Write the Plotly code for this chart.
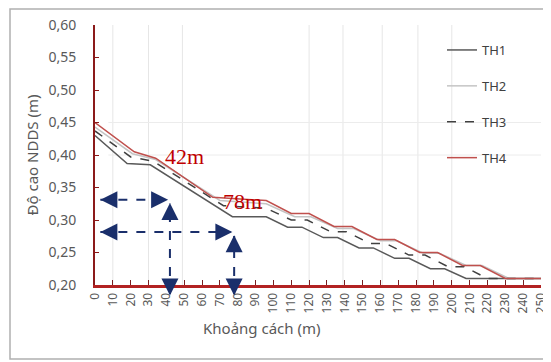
import plotly.graph_objects as go

# ---------------- data ----------------
series_names = ["TH1", "TH2", "TH3", "TH4"]

x_th1 = [0, 18, 31, 77, 96, 108, 116, 128, 136, 148, 156, 168, 176, 188, 196, 208, 250]
y_th1 = [0.430, 0.387, 0.385, 0.305, 0.305, 0.289, 0.289, 0.273, 0.273, 0.257, 0.257, 0.241, 0.241, 0.225, 0.225, 0.210, 0.210]

x_th2 = [0, 21, 34, 70, 96, 112, 121, 136, 145, 160, 169, 184, 193, 208, 217, 232, 250]
y_th2 = [0.443, 0.402, 0.393, 0.330, 0.325, 0.305, 0.305, 0.287, 0.287, 0.268, 0.268, 0.249, 0.249, 0.230, 0.230, 0.210, 0.210]

x_th3 = [0, 20, 33, 72, 96, 110, 119, 132, 141, 154, 163, 176, 185, 198, 207, 220, 250]
y_th3 = [0.437, 0.397, 0.390, 0.322, 0.318, 0.300, 0.300, 0.282, 0.282, 0.264, 0.264, 0.246, 0.246, 0.228, 0.228, 0.210, 0.210]

x_th4 = [0, 22, 34, 66, 96, 110, 120, 134, 144, 158, 168, 182, 192, 206, 216, 230, 250]
y_th4 = [0.450, 0.405, 0.395, 0.335, 0.330, 0.310, 0.310, 0.290, 0.290, 0.270, 0.270, 0.250, 0.250, 0.230, 0.230, 0.210, 0.210]

x_ticks = list(range(0, 251, 10))
x_tick_labels = [str(v) for v in x_ticks]
y_ticks = [0.20, 0.25, 0.30, 0.35, 0.40, 0.45, 0.50, 0.55, 0.60]

# marked distances and their levels
mark_dist = [42, 78]
mark_level = [0.331, 0.2815]
mark_labels = ["42m", "78m"]

# ---------------- styles ----------------
colors = {"TH1": "#595959", "TH2": "#c4c4c4", "TH3": "#404040", "TH4": "#c0504d"}
dashes = {"TH1": "solid", "TH2": "solid", "TH3": "dash", "TH4": "solid"}
xs = {"TH1": x_th1, "TH2": x_th2, "TH3": x_th3, "TH4": x_th4}
ys = {"TH1": y_th1, "TH2": y_th2, "TH3": y_th3, "TH4": y_th4}

# plot area in page px (page has an 8px body margin): x 95..541, y 25..285
PL, PR, PT, PB = 95, 541, 25, 285
FIG_W, FIG_H = 543, 354

def px_x(p):
    return (p - PL) / float(PR - PL)

def px_y(p):
    return (PB - p) / float(PB - PT)

fig = go.Figure()

shapes = []
for gx in [10, 30, 49, 120, 139, 161, 181, 200]:
    shapes.append(dict(type="line", xref="x", yref="paper", x0=gx, x1=gx, y0=0, y1=1,
                       line=dict(color="#e6e6e6", width=1), layer="below"))
for gy in [0.45, 0.40]:
    shapes.append(dict(type="line", xref="paper", yref="y", x0=0.03, x1=1.0, y0=gy, y1=gy,
                       line=dict(color="#ececec", width=1), layer="below"))

for name in series_names:
    fig.add_trace(go.Scatter(
        x=xs[name], y=ys[name], mode="lines", name=name,
        legendgroup=name,
        line=dict(color=colors[name], width=1.5, dash=dashes[name]),
    ))

navy = "#1a2f6b"
annotations = []
for d, lv in zip(mark_dist, mark_level):
    shapes.append(dict(type="line", xref="x", yref="y", x0=3, x1=d - 2, y0=lv, y1=lv,
                       line=dict(color=navy, width=2, dash="dash")))
    shapes.append(dict(type="line", xref="x", yref="paper", x0=d, x1=d,
                       y0=-0.035, y1=(lv - 0.2) / 0.4 - 0.015,
                       line=dict(color=navy, width=2, dash="dash")))
    annotations.append(dict(x=3, y=lv, xref="x", yref="y", ax=10, ay=0, text="",
                            showarrow=True, arrowhead=2, arrowsize=1.7, arrowwidth=2, arrowcolor=navy))
    annotations.append(dict(x=d - 1, y=lv, xref="x", yref="y", ax=-10, ay=0, text="",
                            showarrow=True, arrowhead=2, arrowsize=1.7, arrowwidth=2, arrowcolor=navy))
    annotations.append(dict(x=d, y=(lv - 0.2) / 0.4 - 0.012, xref="x", yref="paper", ax=0, ay=10, text="",
                            showarrow=True, arrowhead=2, arrowsize=1.7, arrowwidth=2, arrowcolor=navy))
    annotations.append(dict(x=d, y=-0.04, xref="x", yref="paper", ax=0, ay=-10, text="",
                            showarrow=True, arrowhead=2, arrowsize=1.7, arrowwidth=2, arrowcolor=navy))

annotations.append(dict(x=50.2, y=0.397, xref="x", yref="y", text=mark_labels[0], showarrow=False,
                        font=dict(family="Liberation Serif", size=22, color="#c00000")))
annotations.append(dict(x=82.6, y=0.328, xref="x", yref="y", text=mark_labels[1], showarrow=False,
                        font=dict(family="Liberation Serif", size=22, color="#c00000")))

annotations.append(dict(x=px_x(261), y=px_y(340), xref="paper", yref="paper",
                        text="Khoảng cách (m)", showarrow=False,
                        font=dict(family="Noto Sans", size=15, color="#595959")))

# outer border
shapes.append(dict(type="rect", xref="paper", yref="paper",
                   x0=px_x(10), x1=px_x(549), y0=px_y(359), y1=px_y(9),
                   line=dict(color="#b0b0b0", width=1.5), layer="above"))

fig.update_layout(
    width=FIG_W, height=FIG_H,
    margin=dict(l=PL - 8, r=FIG_W + 8 - PR, t=PT - 8, b=FIG_H + 8 - PB),
    paper_bgcolor="white", plot_bgcolor="white",
    separators=",.",
    font=dict(family="Noto Sans", color="#595959"),
    showlegend=True,
    legend=dict(x=px_x(442), y=px_y(35), xanchor="left", yanchor="top",
                bgcolor="rgba(255,255,255,0)", font=dict(size=13, color="#404040"),
                tracegroupgap=16, itemwidth=30, traceorder="grouped"),
    shapes=shapes,
    annotations=annotations,
    xaxis=dict(range=[0, 250], tickvals=x_ticks, ticktext=x_tick_labels, tickangle=-90,
               showgrid=False, zeroline=False, showline=True, linecolor="#b22222", linewidth=3,
               ticks="inside", ticklen=5, tickcolor="#7a1f1f", tickwidth=1,
               tickfont=dict(size=12, color="#595959"), automargin=False,
               ticklabeloverflow="allow"),
    yaxis=dict(range=[0.2, 0.6], tickvals=y_ticks, tickformat=".2f",
               showgrid=False, zeroline=False, showline=True, linecolor="#8b1a1a", linewidth=2,
               ticks="inside", ticklen=4, tickcolor="#8b1a1a",
               tickfont=dict(size=14, color="#595959"), ticklabelstandoff=14, automargin=False,
               title=dict(text="Độ cao NDDS (m)", font=dict(size=15, color="#595959"), standoff=6)),
)

fig.write_html("out.html")
